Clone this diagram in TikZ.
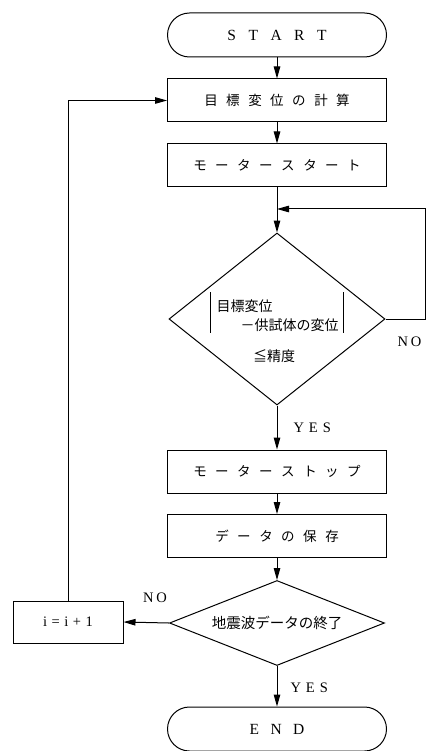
\documentclass[tikz,border=0pt]{standalone}
\usepackage{fontspec}
\setmainfont{Liberation Serif}
\newfontfamily\jp{Noto Sans CJK JP}
\usetikzlibrary{arrows.meta,shapes.geometric}
\newcommand\gp{\hspace{8.5pt}}
\newcommand\lgap{\hspace{12.5pt}}
\begin{document}
\begin{tikzpicture}[x=1pt,y=-1pt,
  line width=1pt,
  >={Triangle[length=12pt,width=6.5pt]},
  box/.style={draw, minimum width=219pt, minimum height=43pt, inner sep=0pt,
    font=\jp\fontsize{13.5}{16}\selectfont},
  term/.style={draw, rounded corners=22pt, minimum width=219pt, minimum height=44pt,
    inner sep=0pt, font=\fontsize{15.5}{18}\selectfont},
  dia/.style={draw, diamond, inner sep=0pt},
  lbl/.style={font=\fontsize{14.5}{17}\selectfont, inner sep=0pt},
  jtxt/.style={font=\jp\fontsize{14}{16}\selectfont, inner sep=0pt}]
\useasboundingbox (0,0) rectangle (427,751);

\node[term] (start) at (277,35) {S\lgap T\lgap A\lgap R\lgap T};
\node[box] (b1) at (277,100.5) {目\gp 標\gp 変\gp 位\gp の\gp 計\gp 算};
\node[box] (b2) at (277,165.5) {モ\gp ー\gp タ\gp ー\gp ス\gp タ\gp ー\gp ト};
\node[dia, minimum width=216pt, minimum height=172pt] (d1) at (277,319) {};
\node[box] (b3) at (277,471.5) {モ\gp ー\gp タ\gp ー\gp ス\gp ト\gp ッ\gp プ};
\node[box] (b4) at (277,536) {デ\gp ー\gp タ\gp の\gp 保\gp 存};
\node[dia, minimum width=215pt, minimum height=85pt] (d2) at (277,623) {};
\node[draw, minimum width=110pt, minimum height=42pt, inner sep=0pt,
  font=\fontsize{14.5}{17}\selectfont] (ib) at (68,622) {i\hspace{4.5pt}=\hspace{4.5pt}i\hspace{4.5pt}+\hspace{4.5pt}1};
\node[term] (end) at (277,729) {E\hspace{11.5pt}N\hspace{11.5pt}D};

% diamond texts
\draw[line width=0.7pt] (210,292) -- (210,333);
\draw[line width=0.7pt] (343,292) -- (343,333);
\node[jtxt, anchor=west] (t1) at (216,306) {目標変位};
\node[jtxt, anchor=east] (t2) at (339,325) {－供試体の変位};
\node[jtxt] (t3) at (274,356) {≦精度};
\node[jtxt, font=\jp\fontsize{14.5}{16}\selectfont] (t4) at (277,623) {地震波データの終了};

% connectors
\coordinate (j1) at (277,209);
\coordinate (r1) at (425,319);
\draw[->] (start) -- (b1);
\draw[->] (b1) -- (b2);
\draw (b2) -- (j1);
\draw[->] (j1) -- (d1.north);
\draw[->] (d1.east) -- (r1) |- (j1);
\draw[->] (d1.south) -- (b3);
\draw[->] (b3) -- (b4);
\draw[->] (b4) -- (d2.north);
\draw[->] (d2.west) -- (ib.east);
\draw[->] (ib.north) |- (b1.west);
\draw[->] (d2.south) -- (end);

% labels
\node[lbl, anchor=west] (y1) at (293,428) {Y\hspace{5pt}E\hspace{5pt}S};
\node[lbl, anchor=west] (n1) at (397,342) {N\hspace{3pt}O};
\node[lbl] (n2) at (155,598) {N\hspace{3pt}O};
\node[lbl, anchor=west] (y2) at (290,688) {Y\hspace{5pt}E\hspace{5pt}S};
\end{tikzpicture}
\end{document}
